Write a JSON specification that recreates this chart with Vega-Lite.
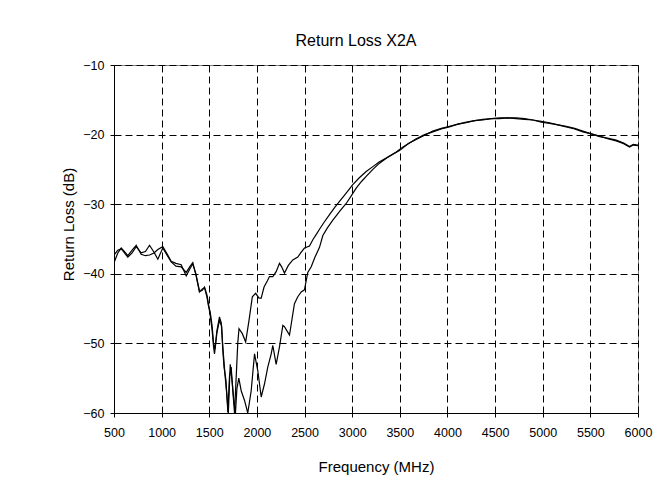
{
  "$schema": "https://vega.github.io/schema/vega-lite/v6.json",
  "autosize": "none",
  "width": 524,
  "height": 348,
  "padding": {"left": 114, "top": 65, "right": 16, "bottom": 70},
  "background": "white",
  "title": {"text": "Return Loss X2A", "frame": "group", "anchor": "middle", "dx": -20, "dy": 21, "offset": 18, "baseline": "alphabetic", "font": "Liberation Sans", "fontSize": 16, "fontWeight": "normal", "color": "#000"},
  "config": {
    "font": "Liberation Sans",
    "view": {"stroke": "#808080", "strokeWidth": 1},
    "axis": {"labelFont": "Liberation Sans", "titleFont": "Liberation Sans", "labelColor": "#000", "titleColor": "#000", "domainColor": "#000", "tickColor": "#000", "gridColor": "#000", "gridDash": [7, 4], "gridWidth": 1, "gridOpacity": 1, "tickSize": 4, "labelFontSize": 12.5, "titleFontSize": 15, "titleFontWeight": "normal"}
  },
  "data": {"values": [
    {"f":500,"s":"A","v":-38.4},{"f":540,"s":"A","v":-37.0},{"f":576,"s":"A","v":-36.3},{"f":610,"s":"A","v":-36.8},{"f":645,"s":"A","v":-37.4},{"f":690,"s":"A","v":-36.6},{"f":733,"s":"A","v":-35.9},{"f":785,"s":"A","v":-37.2},{"f":830,"s":"A","v":-37.4},{"f":873,"s":"A","v":-37.3},{"f":920,"s":"A","v":-37.0},{"f":960,"s":"A","v":-36.5},{"f":1012,"s":"A","v":-36.1},{"f":1060,"s":"A","v":-37.2},{"f":1100,"s":"A","v":-38.2},{"f":1150,"s":"A","v":-38.5},{"f":1205,"s":"A","v":-38.7},{"f":1258,"s":"A","v":-40.3},{"f":1300,"s":"A","v":-39.2},{"f":1327,"s":"A","v":-38.6},{"f":1360,"s":"A","v":-40.0},{"f":1397,"s":"A","v":-42.5},{"f":1425,"s":"A","v":-42.4},{"f":1450,"s":"A","v":-41.9},{"f":1475,"s":"A","v":-43.0},{"f":1490,"s":"A","v":-44.2},{"f":1510,"s":"A","v":-46.0},{"f":1530,"s":"A","v":-48.1},{"f":1545,"s":"A","v":-50.5},{"f":1555,"s":"A","v":-51.5},{"f":1580,"s":"A","v":-48.5},{"f":1607,"s":"A","v":-46.7},{"f":1630,"s":"A","v":-47.5},{"f":1640,"s":"A","v":-50.5},{"f":1655,"s":"A","v":-53.4},{"f":1675,"s":"A","v":-55.3},{"f":1695,"s":"A","v":-59.9},{"f":1712,"s":"A","v":-54.8},{"f":1730,"s":"A","v":-53.4},{"f":1747,"s":"A","v":-56.8},{"f":1765,"s":"A","v":-60.0},{"f":1782,"s":"A","v":-55.0},{"f":1799,"s":"A","v":-50.0},{"f":1812,"s":"A","v":-47.9},{"f":1847,"s":"A","v":-48.6},{"f":1882,"s":"A","v":-49.8},{"f":1917,"s":"A","v":-46.7},{"f":1952,"s":"A","v":-43.3},{"f":1987,"s":"A","v":-42.8},{"f":2022,"s":"A","v":-43.5},{"f":2045,"s":"A","v":-43.5},{"f":2075,"s":"A","v":-41.9},{"f":2110,"s":"A","v":-41.0},{"f":2132,"s":"A","v":-40.4},{"f":2167,"s":"A","v":-40.4},{"f":2202,"s":"A","v":-39.7},{"f":2237,"s":"A","v":-38.5},{"f":2260,"s":"A","v":-39.0},{"f":2289,"s":"A","v":-39.9},{"f":2330,"s":"A","v":-38.8},{"f":2377,"s":"A","v":-38.0},{"f":2429,"s":"A","v":-37.6},{"f":2465,"s":"A","v":-36.9},{"f":2499,"s":"A","v":-36.3},{"f":2552,"s":"A","v":-36.0},{"f":2587,"s":"A","v":-35.1},{"f":2620,"s":"A","v":-34.4},{"f":2657,"s":"A","v":-33.6},{"f":2700,"s":"A","v":-32.7},{"f":2762,"s":"A","v":-31.5},{"f":2815,"s":"A","v":-30.5},{"f":2867,"s":"A","v":-29.6},{"f":2937,"s":"A","v":-28.4},{"f":3006,"s":"A","v":-27.2},{"f":3075,"s":"A","v":-26.2},{"f":3147,"s":"A","v":-25.3},{"f":3217,"s":"A","v":-24.6},{"f":3287,"s":"A","v":-23.9},{"f":3390,"s":"A","v":-23.1},{"f":3497,"s":"A","v":-22.3},{"f":3580,"s":"A","v":-21.4},{"f":3672,"s":"A","v":-20.6},{"f":3760,"s":"A","v":-20.0},{"f":3846,"s":"A","v":-19.6},{"f":3935,"s":"A","v":-19.2},{"f":4021,"s":"A","v":-18.9},{"f":4110,"s":"A","v":-18.5},{"f":4197,"s":"A","v":-18.2},{"f":4285,"s":"A","v":-18.0},{"f":4371,"s":"A","v":-17.8},{"f":4460,"s":"A","v":-17.7},{"f":4546,"s":"A","v":-17.6},{"f":4635,"s":"A","v":-17.6},{"f":4721,"s":"A","v":-17.6},{"f":4810,"s":"A","v":-17.7},{"f":4896,"s":"A","v":-17.9},{"f":4985,"s":"A","v":-18.1},{"f":5071,"s":"A","v":-18.3},{"f":5160,"s":"A","v":-18.6},{"f":5246,"s":"A","v":-18.8},{"f":5335,"s":"A","v":-19.1},{"f":5421,"s":"A","v":-19.5},{"f":5510,"s":"A","v":-19.9},{"f":5597,"s":"A","v":-20.3},{"f":5680,"s":"A","v":-20.5},{"f":5771,"s":"A","v":-20.8},{"f":5850,"s":"A","v":-21.2},{"f":5911,"s":"A","v":-21.7},{"f":5950,"s":"A","v":-21.4},{"f":6000,"s":"A","v":-21.5},
    {"f":500,"s":"B","v":-37.3},{"f":540,"s":"B","v":-36.6},{"f":576,"s":"B","v":-36.4},{"f":610,"s":"B","v":-37.0},{"f":645,"s":"B","v":-37.6},{"f":690,"s":"B","v":-37.0},{"f":733,"s":"B","v":-36.1},{"f":785,"s":"B","v":-37.0},{"f":830,"s":"B","v":-36.8},{"f":873,"s":"B","v":-35.9},{"f":920,"s":"B","v":-36.9},{"f":960,"s":"B","v":-37.9},{"f":1012,"s":"B","v":-36.3},{"f":1060,"s":"B","v":-37.4},{"f":1100,"s":"B","v":-38.3},{"f":1150,"s":"B","v":-38.9},{"f":1205,"s":"B","v":-39.0},{"f":1258,"s":"B","v":-39.8},{"f":1300,"s":"B","v":-38.9},{"f":1327,"s":"B","v":-38.4},{"f":1360,"s":"B","v":-40.2},{"f":1397,"s":"B","v":-42.6},{"f":1425,"s":"B","v":-42.2},{"f":1450,"s":"B","v":-42.0},{"f":1475,"s":"B","v":-43.3},{"f":1490,"s":"B","v":-44.5},{"f":1510,"s":"B","v":-45.5},{"f":1530,"s":"B","v":-47.5},{"f":1545,"s":"B","v":-50.0},{"f":1560,"s":"B","v":-50.8},{"f":1580,"s":"B","v":-48.2},{"f":1607,"s":"B","v":-46.2},{"f":1625,"s":"B","v":-47.0},{"f":1645,"s":"B","v":-51.0},{"f":1665,"s":"B","v":-54.5},{"f":1685,"s":"B","v":-57.5},{"f":1700,"s":"B","v":-60.0},{"f":1720,"s":"B","v":-53.0},{"f":1740,"s":"B","v":-55.5},{"f":1760,"s":"B","v":-58.5},{"f":1775,"s":"B","v":-60.0},{"f":1790,"s":"B","v":-56.5},{"f":1810,"s":"B","v":-55.0},{"f":1835,"s":"B","v":-56.8},{"f":1870,"s":"B","v":-58.2},{"f":1904,"s":"B","v":-60.0},{"f":1940,"s":"B","v":-56.8},{"f":1975,"s":"B","v":-51.5},{"f":2009,"s":"B","v":-53.9},{"f":2045,"s":"B","v":-57.7},{"f":2080,"s":"B","v":-55.8},{"f":2114,"s":"B","v":-53.4},{"f":2150,"s":"B","v":-51.5},{"f":2167,"s":"B","v":-50.3},{"f":2202,"s":"B","v":-53.0},{"f":2237,"s":"B","v":-50.5},{"f":2272,"s":"B","v":-47.4},{"f":2289,"s":"B","v":-47.6},{"f":2342,"s":"B","v":-48.8},{"f":2394,"s":"B","v":-44.3},{"f":2429,"s":"B","v":-43.3},{"f":2465,"s":"B","v":-42.6},{"f":2499,"s":"B","v":-42.3},{"f":2534,"s":"B","v":-39.8},{"f":2570,"s":"B","v":-39.0},{"f":2610,"s":"B","v":-37.6},{"f":2657,"s":"B","v":-36.2},{"f":2692,"s":"B","v":-34.5},{"f":2740,"s":"B","v":-33.4},{"f":2797,"s":"B","v":-32.3},{"f":2870,"s":"B","v":-31.0},{"f":2937,"s":"B","v":-29.9},{"f":2990,"s":"B","v":-28.8},{"f":3042,"s":"B","v":-27.7},{"f":3100,"s":"B","v":-26.7},{"f":3147,"s":"B","v":-26.0},{"f":3217,"s":"B","v":-25.0},{"f":3287,"s":"B","v":-24.1},{"f":3380,"s":"B","v":-23.2},{"f":3462,"s":"B","v":-22.5},{"f":3530,"s":"B","v":-21.8},{"f":3600,"s":"B","v":-21.2},{"f":3672,"s":"B","v":-20.7},{"f":3760,"s":"B","v":-20.1},{"f":3846,"s":"B","v":-19.5},{"f":3935,"s":"B","v":-19.1},{"f":4021,"s":"B","v":-18.8},{"f":4110,"s":"B","v":-18.5},{"f":4197,"s":"B","v":-18.3},{"f":4285,"s":"B","v":-18.0},{"f":4371,"s":"B","v":-17.9},{"f":4460,"s":"B","v":-17.7},{"f":4546,"s":"B","v":-17.7},{"f":4635,"s":"B","v":-17.6},{"f":4721,"s":"B","v":-17.7},{"f":4810,"s":"B","v":-17.8},{"f":4896,"s":"B","v":-17.9},{"f":4985,"s":"B","v":-18.2},{"f":5071,"s":"B","v":-18.4},{"f":5160,"s":"B","v":-18.6},{"f":5246,"s":"B","v":-18.9},{"f":5335,"s":"B","v":-19.2},{"f":5421,"s":"B","v":-19.6},{"f":5510,"s":"B","v":-19.9},{"f":5597,"s":"B","v":-20.2},{"f":5680,"s":"B","v":-20.6},{"f":5771,"s":"B","v":-20.9},{"f":5850,"s":"B","v":-21.3},{"f":5911,"s":"B","v":-21.8},{"f":5950,"s":"B","v":-21.5},{"f":6000,"s":"B","v":-21.6}
  ]},
  "mark": {"type": "line", "color": "#000", "strokeWidth": 1.2, "clip": true},
  "encoding": {
    "x": {"field": "f", "type": "quantitative", "scale": {"domain": [500, 6000], "nice": false, "zero": false},
      "axis": {"title": "Frequency (MHz)", "values": [500,1000,1500,2000,2500,3000,3500,4000,4500,5000,5500,6000], "format": "d", "labelPadding": 9, "labelFlush": false, "titleY": 53, "titleBaseline": "middle"}},
    "y": {"field": "v", "type": "quantitative", "scale": {"domain": [-60, -10], "nice": false, "zero": false},
      "axis": {"title": "Return Loss (dB)", "values": [-60,-50,-40,-30,-20,-10], "format": "d", "labelPadding": 6, "titleX": -46, "titleY": 159, "titleBaseline": "middle", "titleAngle": -90}},
    "detail": {"field": "s", "type": "nominal"}
  }
}
